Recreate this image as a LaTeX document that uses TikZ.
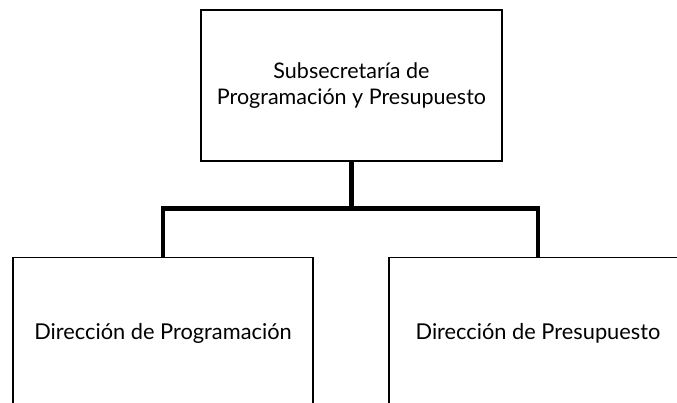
\documentclass[tikz,border=0pt]{standalone}
\usepackage{fontspec}
\setmainfont{Lato}
\usetikzlibrary{positioning}

\begin{document}
\begin{tikzpicture}
            [
                x=1pt, y=-1pt,
                subsecretaria/.style={rectangle, draw, line width=1.5pt, minimum width=301pt, minimum height=151pt, inner sep=0pt, align=center, font=\fontsize{21.5}{26}\selectfont},
                direccion/.style={rectangle, draw, line width=1.5pt, minimum width=300pt, minimum height=152pt, inner sep=0pt, anchor=north, font=\fontsize{21.8}{26}\selectfont},
                enlace/.style={line width=4.5pt},
            ]
            %obs: \usetikzlibrary{positioning}
            \useasboundingbox (0,0) rectangle (677,403);
            \clip (0,0) rectangle (677,403);
            \node[subsecretaria] (sub) at (351.5,85.5) {Subsecretaría de\\Programación y Presupuesto};
            \node[direccion] (dprog) [below=95pt of sub, xshift=-188.5pt] {Dirección de Programación};
            \node[direccion, minimum width=298pt] (dpres) [below=95pt of sub, xshift=186.5pt] {Dirección de Presupuesto};
            \coordinate[below=47pt of sub.south] (rama);
            \draw[enlace] (sub.south) -- (rama);
            \draw[enlace] (dprog.north) |- (rama) -| (dpres.north);
        \end{tikzpicture}
\end{document}
